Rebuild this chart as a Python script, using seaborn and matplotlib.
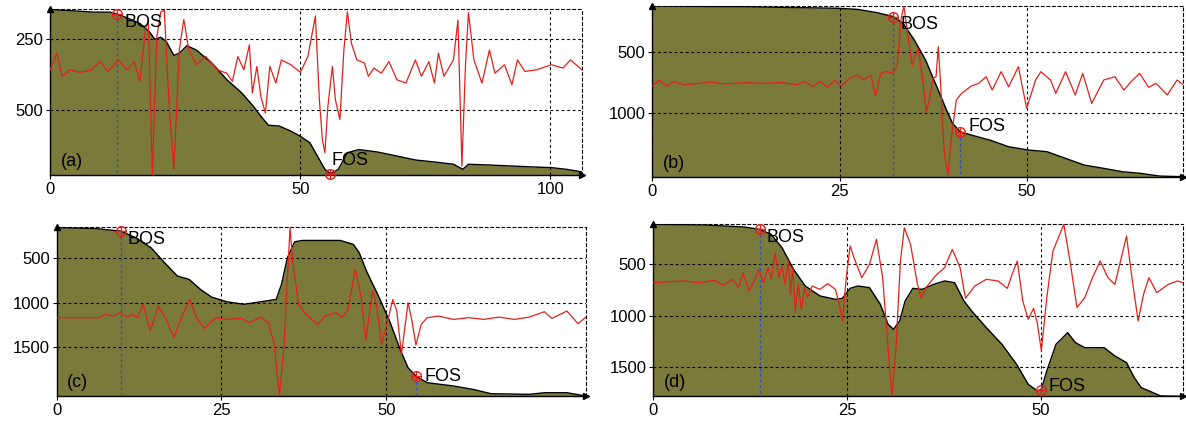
import seaborn as sns
from matplotlib import pyplot as plt

sns.set_style("white")
plt.rcParams['font.family'] = ['Liberation Sans', 'DejaVu Sans']
plt.rcParams.update({'text.color': 'black', 'xtick.color': 'black', 'ytick.color': 'black',
                     'axes.labelcolor': 'black'})

FILL = '#7a7a3a'
RED = '#e3211c'
BLUE = '#3050c0'

# ---- panel (a) ----
a_prof_x = [0, 2.0, 5.1, 8.8, 11.9, 13.4, 15.6, 17.9, 19.8, 20.9, 22.1, 23.2, 24.7, 25.8, 27.3,
            29.2, 32.3, 35.3, 38.3, 40.6, 42.1, 43.6, 45.8, 48.1, 50.0, 51.9, 53.4, 54.9, 56.0, 57.6,
            59.4, 61.7, 65.5, 69.3, 73.0, 76.8, 80.6, 82.5, 83.6, 88.1, 95.7, 100.2, 103.2, 106.3]
a_prof_y = [144, 147, 150, 154, 154, 161, 176, 194, 223, 250, 243, 258, 307, 299, 273,
            288, 334, 393, 440, 487, 522, 554, 557, 575, 593, 616, 663, 710, 725, 710,
            651, 640, 649, 663, 677, 684, 692, 710, 692, 695, 701, 704, 710, 719]
a_sig_x = [0, 1.3, 2.4, 3.9, 5.8, 8.1, 10.0, 11.5, 13.7, 15.3,
           16.8, 17.9, 19.0, 19.6, 20.4, 21.3, 22.1, 22.8, 23.7, 24.7,
           25.8, 26.7, 27.7, 29.2, 31.1, 33.4, 35.3, 36.4, 37.5, 38.7,
           39.8, 40.4, 41.3, 42.1, 43.0, 43.9, 45.1, 46.2, 48.1, 50.0,
           51.5, 53.0, 53.8, 54.4, 54.9, 55.5, 56.4, 57.0, 57.9, 58.7,
           59.4, 60.2, 61.3, 62.8, 63.6, 64.7, 66.2, 67.7, 69.3, 71.1,
           73.0, 74.2, 75.7, 76.8, 77.6, 78.7, 80.6, 81.5, 82.3, 83.0,
           83.6, 84.7, 86.3, 87.8, 88.9, 90.8, 92.3, 93.4, 94.9, 97.2,
           100.2, 102.5, 104.0, 106.3]
a_sig_y = [358, 299, 381, 358, 367, 360, 329, 364, 323, 358,
           329, 399, 217, 182, 728, 241, 153, 147, 464, 710,
           288, 180, 288, 340, 311, 358, 370, 399, 311, 358,
           270, 440, 346, 452, 511, 346, 405, 323, 340, 367,
           311, 168, 464, 604, 651, 487, 346, 464, 534, 288,
           153, 264, 323, 334, 381, 352, 370, 329, 393, 405,
           323, 381, 329, 405, 299, 381, 323, 182, 698, 346,
           156, 323, 405, 288, 370, 340, 411, 323, 364, 358,
           340, 352, 323, 358]
a_bos = (13.4, 161)
a_fos = (56.0, 725)

# ---- panel (b) ----
b_prof_x = [0, 12.3, 24.9, 27.4, 30.0, 32.2, 33.5, 35.0, 36.5, 38.0, 39.3, 40.1, 41.1,
            42.6, 45.1, 47.6, 50.2, 52.7, 55.2, 57.7, 60.3, 62.8, 65.3, 67.8, 70.9]
b_prof_y = [116, 122, 135, 144, 171, 204, 260, 398, 564, 785, 978, 1088, 1157,
            1185, 1227, 1282, 1309, 1323, 1378, 1434, 1461, 1489, 1503, 1525, 1530]
b_sig_x = [0, 0.9, 1.9, 2.9, 4.2, 6.2, 7.7, 9.7, 12.3, 14.8,
           17.3, 19.3, 20.4, 21.4, 22.4, 23.4, 24.4, 25.2, 26.4, 27.4,
           28.2, 29.2, 29.8, 30.5, 31.2, 32.0, 32.7, 33.2, 33.6, 34.1,
           34.7, 35.5, 36.0, 36.6, 37.0, 37.5, 37.9, 38.2, 38.5, 39.0,
           39.5, 39.9, 40.6, 41.3, 42.6, 43.6, 44.6, 45.4, 46.6, 47.6,
           48.9, 50.0, 51.2, 51.9, 53.2, 53.9, 55.2, 56.5, 57.5, 58.7,
           60.3, 61.8, 63.0, 64.0, 65.1, 66.3, 67.3, 68.8, 70.1, 70.9]
b_sig_y = [779, 729, 779, 740, 768, 757, 746, 762, 751, 757,
           751, 768, 740, 785, 740, 790, 729, 779, 715, 688,
           729, 688, 862, 674, 660, 674, 619, 232, 116, 343,
           605, 467, 674, 992, 895, 715, 702, 453, 757, 1337,
           1517, 1227, 895, 840, 779, 757, 702, 812, 660, 785,
           619, 964, 729, 660, 729, 840, 660, 853, 674, 923,
           729, 702, 812, 740, 674, 790, 757, 853, 729, 768]
b_bos = (32.2, 204)
b_fos = (41.1, 1157)

# ---- panel (c) ----
c_prof_x = [0, 5.7, 9.7, 12.0, 14.3, 16.6, 18.3, 20.1, 21.8, 23.5, 25.8, 28.4, 31.0, 33.3,
            34.1, 35.0, 36.1, 37.3, 40.1, 43.0, 45.0, 45.9, 47.0, 48.7, 50.5, 52.2, 53.3,
            54.5, 56.2, 60.2, 63.1, 65.9, 71.7, 74.0, 77.4, 80.3]
c_prof_y = [165, 173, 203, 277, 388, 574, 704, 742, 853, 939, 991, 1020, 991, 965,
            797, 500, 322, 307, 307, 307, 351, 444, 649, 909, 1206, 1541, 1727,
            1820, 1894, 1931, 1968, 2017, 2024, 2006, 2006, 2043]
c_sig_x = [0, 6.3, 7.5, 8.6, 9.7, 10.6, 11.5, 12.3, 13.1, 14.2,
           15.4, 16.5, 17.8, 18.9, 20.2, 21.2, 22.4, 24.1, 25.8, 28.1,
           29.2, 31.0, 32.1, 33.0, 33.8, 34.5, 35.0, 35.4, 35.8, 36.7,
           37.8, 39.6, 40.7, 42.4, 43.3, 44.2, 45.3, 46.2, 46.9, 47.9,
           48.5, 49.3, 50.2, 51.0, 51.6, 52.3, 53.3, 53.9, 54.5, 55.3,
           56.2, 57.9, 60.2, 62.5, 64.8, 67.1, 69.4, 71.7, 74.0, 75.1,
           77.4, 79.1, 80.3]
c_sig_y = [1169, 1169, 1132, 1151, 1113, 1162, 1132, 1169, 1013, 1318,
           1039, 1169, 1392, 1169, 965, 1169, 1288, 1169, 1188, 1177,
           1225, 1162, 1225, 1467, 2043, 1467, 723, 165, 537, 1020,
           1132, 1244, 1151, 1113, 1169, 1076, 630, 946, 1429, 872,
           1020, 1467, 1206, 965, 1095, 1578, 1002, 1206, 1474, 1244,
           1169, 1151, 1188, 1169, 1188, 1162, 1188, 1162, 1102, 1177,
           1095, 1236, 1162]
c_bos = (9.7, 203)
c_fos = (54.5, 1820)

# ---- panel (d) ----
d_prof_x = [0, 6.8, 11.7, 13.7, 15.2, 16.6, 18.1, 19.6, 21.5, 23.5, 24.4, 25.4, 26.4, 27.9,
            29.3, 30.3, 31.0, 31.8, 32.5, 33.5, 34.7, 36.2, 37.6, 38.9, 40.1, 41.1, 43.0,
            45.0, 46.9, 48.4, 49.6, 50.1, 50.8, 52.0, 53.5, 54.5, 55.7, 58.2, 59.6, 61.1,
            62.1, 63.0, 64.5, 65.5, 68.4]
d_prof_y = [110, 117, 136, 159, 208, 338, 549, 711, 808, 841, 831, 734, 711, 727,
            890, 1084, 1133, 1052, 857, 734, 744, 695, 662, 679, 857, 955, 1117,
            1279, 1474, 1669, 1734, 1718, 1539, 1279, 1166, 1263, 1312, 1312, 1393, 1458,
            1604, 1701, 1750, 1782, 1786]
d_sig_x = [0, 2.0, 3.9, 5.9, 7.8, 9.0, 10.3, 11.0, 11.6, 12.3,
           13.0, 13.6, 14.2, 14.8, 15.2, 15.7, 16.2, 16.6, 17.0, 17.4,
           17.7, 18.0, 18.3, 18.7, 19.1, 19.5, 19.9, 20.5, 21.5, 22.5,
           23.5, 23.9, 24.4, 24.9, 25.4, 25.9, 26.9, 27.9, 28.8, 29.6,
           30.3, 30.8, 31.3, 31.9, 32.4, 33.2, 34.1, 34.6, 35.2, 36.4,
           37.6, 38.6, 39.6, 40.3, 41.5, 43.0, 44.5, 45.7, 46.4, 47.0,
           47.7, 48.4, 49.1, 49.6, 50.1, 50.8, 51.6, 52.3, 53.0, 53.8,
           54.7, 55.7, 56.7, 57.7, 58.7, 59.6, 61.1, 61.8, 62.6, 63.3,
           64.0, 65.0, 66.5, 67.7, 68.4]
d_sig_y = [679, 669, 662, 679, 656, 701, 646, 727, 581, 760,
           662, 549, 679, 532, 646, 386, 630, 516, 695, 468,
           792, 532, 955, 695, 938, 727, 825, 711, 744, 688,
           744, 857, 1052, 630, 321, 435, 630, 500, 256, 630,
           1312, 1782, 1344, 468, 143, 305, 695, 831, 727, 614,
           532, 354, 532, 831, 711, 646, 662, 734, 581, 468,
           857, 1036, 929, 1084, 1344, 825, 370, 240, 110, 468,
           922, 825, 630, 468, 630, 695, 224, 630, 1052, 792,
           630, 776, 695, 662, 679]
d_bos = (13.7, 159)
d_fos = (50.0, 1728)


def draw_panel(ax, prof_x, prof_y, sig_x, sig_y, depth_lim, x_max, xticks, yticks,
               bos, fos, label, fos_line=True, bos_off=(5, -6), fos_off=(6, 0), fos_va='center'):
    """Bathymetric profile (filled, depth downwards) with the red slope signal on top."""
    bottom, top = depth_lim
    ax.fill_between(prof_x, prof_y, bottom, color=FILL, linewidth=0, zorder=1)
    sns.lineplot(x=prof_x, y=prof_y, ax=ax, color='black', linewidth=1.0,
                 sort=False, estimator=None, zorder=2.6)
    sns.lineplot(x=sig_x, y=sig_y, ax=ax, color=RED, linewidth=0.9,
                 sort=False, estimator=None, zorder=3)

    # dashed drop lines from the foot / base of slope
    ax.vlines(bos[0], bos[1], bottom, colors=BLUE, linestyles=(0, (2, 2)), linewidth=1.0, zorder=2.7)
    if fos_line:
        ax.vlines(fos[0], fos[1], bottom, colors=BLUE, linestyles=(0, (2, 2)), linewidth=1.0, zorder=2.7)

    for x, y in (bos, fos):
        ax.plot(x, y, marker='o', ms=7, mfc='none', mec=RED, mew=1.0, zorder=4, clip_on=False)
        ax.plot(x, y, marker='+', ms=7, color=RED, mew=1.0, zorder=4, clip_on=False)
    ax.annotate('BOS', bos, xytext=bos_off, textcoords='offset points',
                fontsize=13, ha='left', va='center', zorder=5)
    ax.annotate('FOS', fos, xytext=fos_off, textcoords='offset points',
                fontsize=13, ha='left', va=fos_va, zorder=5)

    ax.set_xlim(0, x_max)
    ax.set_ylim(bottom, top)
    ax.set_xticks(xticks)
    ax.set_yticks(yticks)
    ax.set_xlabel('')
    ax.set_ylabel('')

    ax.grid(True, color='black', linestyle=(0, (2.5, 2.5)), linewidth=0.8)
    ax.set_axisbelow(False)
    for side in ('left', 'bottom'):
        ax.spines[side].set_color('black')
        ax.spines[side].set_linewidth(1.0)
    for side in ('top', 'right'):
        ax.spines[side].set_color('black')
        ax.spines[side].set_linewidth(0.8)
        ax.spines[side].set_linestyle((0, (2.5, 2.5)))
    ax.tick_params(direction='out', length=3, width=0.8, labelsize=12, pad=2,
                   color='black', labelcolor='black', left=True, bottom=True)

    # arrow heads on the axes
    ax.plot(0, 1, marker='^', ms=5, color='black', transform=ax.transAxes, clip_on=False, zorder=6)
    ax.plot(1, 0, marker='>', ms=5, color='black', transform=ax.transAxes, clip_on=False, zorder=6)

    ax.text(0.02, 0.08, label, transform=ax.transAxes, fontsize=13, ha='left', va='center', zorder=5)


def main():
    fig = plt.figure(figsize=(11.86, 4.23), dpi=100)
    ax_a = fig.add_axes((0.0424, 0.5863, 0.4483, 0.3917))
    ax_b = fig.add_axes((0.5501, 0.5823, 0.4474, 0.4035))
    ax_c = fig.add_axes((0.0478, 0.0631, 0.4463, 0.4009))
    ax_d = fig.add_axes((0.5510, 0.0631, 0.4465, 0.4066))

    draw_panel(ax_a, a_prof_x, a_prof_y, a_sig_x, a_sig_y, (730, 144), 106.3,
               [0, 50, 100], [250, 500], a_bos, a_fos, '(a)',
               fos_line=False, fos_off=(1, 3), fos_va='bottom')
    draw_panel(ax_b, b_prof_x, b_prof_y, b_sig_x, b_sig_y, (1530, 116), 70.9,
               [0, 25, 50], [500, 1000], b_bos, b_fos, '(b)', fos_off=(6, 4))
    draw_panel(ax_c, c_prof_x, c_prof_y, c_sig_x, c_sig_y, (2046, 154), 80.3,
               [0, 25, 50], [500, 1000, 1500], c_bos, c_fos, '(c)', fos_off=(6, 0))
    draw_panel(ax_d, d_prof_x, d_prof_y, d_sig_x, d_sig_y, (1786, 110), 68.4,
               [0, 25, 50], [500, 1000, 1500], d_bos, d_fos, '(d)', fos_off=(6, 3))

    fig.savefig('out.png', dpi=100)


if __name__ == "__main__":
    main()
